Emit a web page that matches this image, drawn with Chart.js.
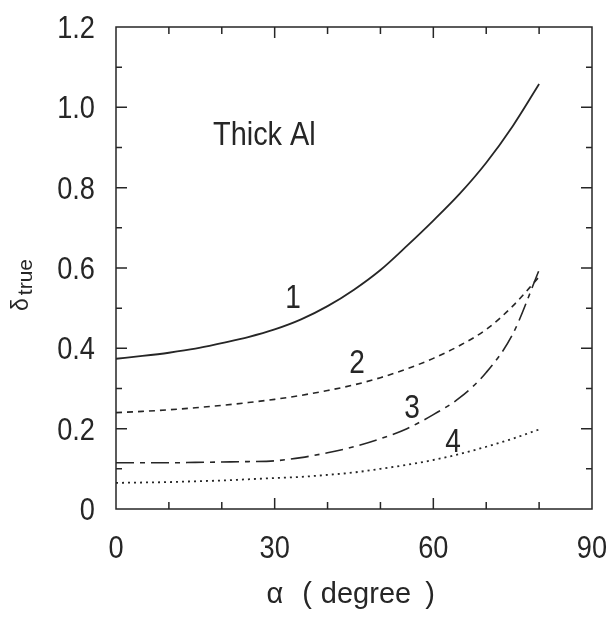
<!DOCTYPE html>
<html>
<head>
<meta charset="utf-8">
<script src="https://cdn.jsdelivr.net/npm/chart.js@4.4.0/dist/chart.umd.min.js"></script>
<style>
  html, body { margin: 0; padding: 0; background: #fff; }
  #wrap { width: 610px; height: 619px; }
</style>
</head>
<body>
<div id="wrap"><canvas id="chart" width="610" height="619"></canvas></div>
<script>
// Data (alpha in degrees)
const angles = [0, 5, 10, 15, 20, 25, 30, 35, 40, 45, 50, 55, 60, 65, 70, 75, 80];
const curve1 = [0.374, 0.381, 0.389, 0.399, 0.413, 0.428, 0.447, 0.472, 0.505, 0.546, 0.595, 0.655, 0.718, 0.785, 0.862, 0.953, 1.058];
const curve2 = [0.24, 0.243, 0.247, 0.252, 0.258, 0.265, 0.273, 0.283, 0.295, 0.309, 0.327, 0.349, 0.375, 0.407, 0.447, 0.505, 0.578];
const curve3 = [0.115, 0.115, 0.115, 0.116, 0.117, 0.118, 0.12, 0.128, 0.14, 0.155, 0.175, 0.2, 0.235, 0.277, 0.34, 0.435, 0.595];
const curve4 = [0.065, 0.066, 0.067, 0.069, 0.071, 0.074, 0.077, 0.08, 0.085, 0.091, 0.1, 0.11, 0.122, 0.137, 0.155, 0.175, 0.198];
const curveLabels = ['1', '2', '3', '4'];
const xTicks = [0, 30, 60, 90];
const yTicks = [0, 0.2, 0.4, 0.6, 0.8, 1.0, 1.2];

const INK = '#262626';
const FONT = "'Liberation Sans', Arial, sans-serif";

function toPoints(ys) {
  return angles.map((a, i) => ({ x: a, y: ys[i] }));
}

function line(label, ys, dash, width) {
  return {
    label: label,
    data: toPoints(ys),
    showLine: true,
    borderColor: INK,
    borderWidth: width,
    borderDash: dash,
    pointRadius: 0,
    cubicInterpolationMode: 'monotone',
    fill: false
  };
}

// narrow-looking text: squeeze horizontally around the anchor
function narrowText(ctx, text, x, y, align, squeeze) {
  ctx.save();
  ctx.translate(x, y);
  ctx.scale(squeeze, 1);
  ctx.textAlign = align;
  ctx.fillText(text, 0, 0);
  ctx.restore();
}

// Frame, inward ticks on all four sides, tick labels and annotations
const framePlugin = {
  id: 'frame',
  afterDraw(chart) {
    const ctx = chart.ctx;
    const a = chart.chartArea;
    const xs = chart.scales.x;
    const ys = chart.scales.y;
    ctx.save();
    ctx.strokeStyle = INK;
    ctx.lineWidth = 1.5;
    ctx.strokeRect(a.left, a.top, a.right - a.left, a.bottom - a.top);

    ctx.beginPath();
    for (let v = 10; v < 90; v += 10) {
      const px = xs.getPixelForValue(v);
      const len = v % 30 === 0 ? 11 : 7;
      ctx.moveTo(px, a.bottom); ctx.lineTo(px, a.bottom - len);
      ctx.moveTo(px, a.top); ctx.lineTo(px, a.top + len);
    }
    for (let k = 1; k < 12; k++) {
      const py = ys.getPixelForValue(k / 10);
      const len = k % 2 === 0 ? 11 : 6;
      ctx.moveTo(a.left, py); ctx.lineTo(a.left + len, py);
      ctx.moveTo(a.right, py); ctx.lineTo(a.right - len, py);
    }
    ctx.stroke();

    ctx.fillStyle = INK;
    ctx.textBaseline = 'alphabetic';

    // tick labels
    ctx.font = '32px ' + FONT;
    xTicks.forEach(v => {
      narrowText(ctx, String(v), xs.getPixelForValue(v), a.bottom + 49, 'center', 0.85);
    });
    yTicks.forEach(v => {
      const t = v === 0 ? '0' : v.toFixed(1);
      narrowText(ctx, t, a.left - 21, ys.getPixelForValue(v) + 11, 'right', 0.85);
    });

    // panel title
    ctx.font = '34px ' + FONT;
    narrowText(ctx, 'Thick Al', 213, 145, 'left', 0.85);

    // curve numbers
    ctx.font = '33px ' + FONT;
    const spots = [[293, 308], [357, 373], [412, 418], [453, 452]];
    curveLabels.forEach((t, i) => narrowText(ctx, t, spots[i][0], spots[i][1], 'center', 0.85));

    // x axis title
    ctx.font = '29px ' + FONT;
    ctx.textAlign = 'center';
    ctx.fillText('\u03b1', 275, 603);
    ctx.fillText('(', 307, 603);
    ctx.fillText('degree', 366, 603);
    ctx.fillText(')', 430, 603);

    // y axis title with subscript, rotated
    ctx.translate(28, 311);
    ctx.rotate(-Math.PI / 2);
    ctx.textAlign = 'left';
    ctx.font = '23px ' + FONT;
    ctx.fillText('\u03b4', 0, 0);
    const w = ctx.measureText('\u03b4').width;
    ctx.font = '21px ' + FONT;
    ctx.fillText('true', w + 3, 4);
    ctx.restore();
  }
};

new Chart(document.getElementById('chart'), {
  type: 'scatter',
  data: {
    datasets: [
      line(curveLabels[0], curve1, [], 1.8),
      line(curveLabels[1], curve2, [6, 5], 1.6),
      line(curveLabels[2], curve3, [18, 6, 5, 6], 1.6),
      line(curveLabels[3], curve4, [2, 4], 1.8)
    ]
  },
  options: {
    responsive: false,
    animation: false,
    layout: { padding: { top: 27, right: 18, left: 0, bottom: 0 } },
    plugins: { legend: { display: false }, tooltip: { enabled: false } },
    scales: {
      x: {
        type: 'linear',
        min: 0,
        max: 90,
        afterBuildTicks(scale) { scale.ticks = xTicks.map(v => ({ value: v })); },
        afterFit(scale) { scale.height = 110; },
        grid: { display: false, drawTicks: false },
        border: { display: false },
        ticks: { display: false }
      },
      y: {
        type: 'linear',
        min: 0,
        max: 1.2,
        afterBuildTicks(scale) { scale.ticks = yTicks.map(v => ({ value: v })); },
        afterFit(scale) { scale.width = 116; },
        grid: { display: false, drawTicks: false },
        border: { display: false },
        ticks: { display: false }
      }
    }
  },
  plugins: [framePlugin]
});
</script>
</body>
</html>
